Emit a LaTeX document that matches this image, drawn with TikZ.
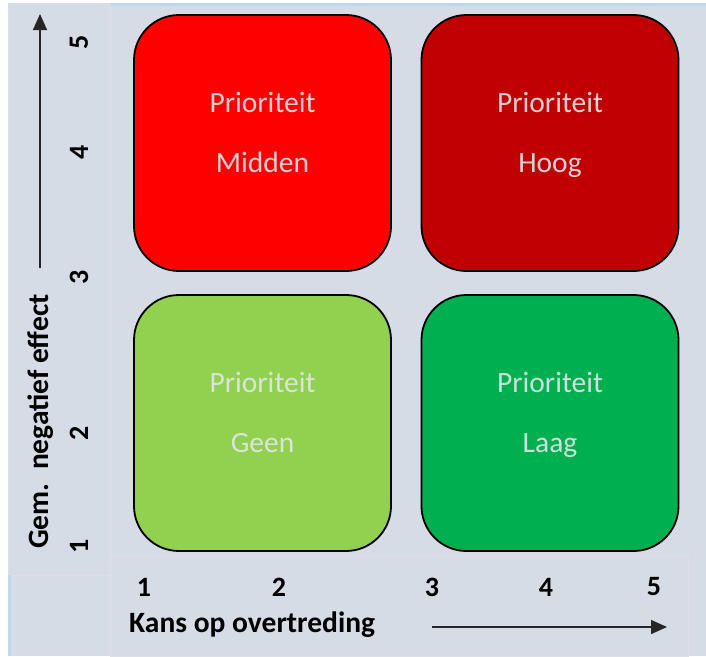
\documentclass[tikz,border=0pt]{standalone}
\usepackage{fontspec}
\setmainfont{Carlito}
\usetikzlibrary{arrows.meta}
\definecolor{bgc}{HTML}{D6DCE5}
\definecolor{edgec}{HTML}{DCDFE4}
\definecolor{bluel}{HTML}{BDD7EE}
\definecolor{cRed}{HTML}{FF0000}
\definecolor{cDark}{HTML}{C00000}
\definecolor{cLight}{HTML}{92D050}
\definecolor{cGreen}{HTML}{00B050}
\definecolor{txtc}{HTML}{E2E6EC}
\tikzset{
  prio/.style={draw=black, line width=1.8pt, rounded corners=45pt, minimum width=257pt, minimum height=256pt, inner sep=0pt},
  ptext/.style={text=txtc, text opacity=0.9, font=\fontsize{29.5}{31}\selectfont, inner sep=0pt, anchor=base},
  axnum/.style={font=\bfseries\fontsize{28}{30}\selectfont, inner sep=0pt},
  axlab/.style={font=\bfseries\fontsize{29.5}{31}\selectfont, inner sep=0pt},
  axarrow/.style={line width=1.4pt, draw=black!85, -{Triangle[width=14pt,length=16pt]}}
}
\begin{document}
\begin{tikzpicture}[x=1pt,y=-1pt]
\useasboundingbox (0,0) rectangle (706,656);
\fill[white] (0,0) rectangle (706,656);
% background panels
\fill[bgc] (8,3) rectangle (706,656);
\fill[bluel] (110,3) rectangle (706,6);
\draw[edgec, line width=1pt] (8,3) rectangle (110,575);
\draw[edgec, line width=1pt] (110,556) rectangle (688,656);
\fill[bluel] (8,575) rectangle (11,656);
% boxes
\node[prio, fill=cRed]   (midden) at (262.5,143) {};
\node[prio, fill=cDark]  (hoog)   at (550,143) {};
\node[prio, fill=cLight] (geen)   at (262.5,423) {};
\node[prio, fill=cGreen] (laag)   at (550,423) {};
% texts
\node[ptext] (t1a) at (262.5,112) {Prioriteit};
\node[ptext] (t1b) at (262.5,172) {Midden};
\node[ptext] (t2a) at (550,112) {Prioriteit};
\node[ptext] (t2b) at (550,172) {Hoog};
\node[ptext] (t3a) at (262.5,392) {Prioriteit};
\node[ptext] (t3b) at (262.5,452) {Geen};
\node[ptext] (t4a) at (550,392) {Prioriteit};
\node[ptext] (t4b) at (550,452) {Laag};
% x axis
\node[axnum] (x1) at (144,587) {1};
\node[axnum] (x2) at (279,587) {2};
\node[axnum] (x3) at (432,587) {3};
\node[axnum] (x4) at (546,587) {4};
\node[axnum] (x5) at (654,587) {5};
\node[axlab, anchor=west] (xlab) at (129,625) {Kans op overtreding};
\coordinate (xs) at (432,627);
\coordinate (xe) at (667,627);
\draw[axarrow] (xs) -- (xe);
% y axis
\node[axnum, rotate=90] (y1) at (79,546) {1};
\node[axnum, rotate=90] (y2) at (79,433) {2};
\node[axnum, rotate=90] (y3) at (79,277) {3};
\node[axnum, rotate=90] (y4) at (79,152) {4};
\node[axnum, rotate=90] (y5) at (79,42) {5};
\node[axlab, rotate=90, anchor=west] (ylab) at (41,549) {Gem.\ \ negatief effect};
\coordinate (ys) at (40,268);
\coordinate (ye) at (40,14);
\draw[axarrow] (ys) -- (ye);
\end{tikzpicture}
\end{document}
